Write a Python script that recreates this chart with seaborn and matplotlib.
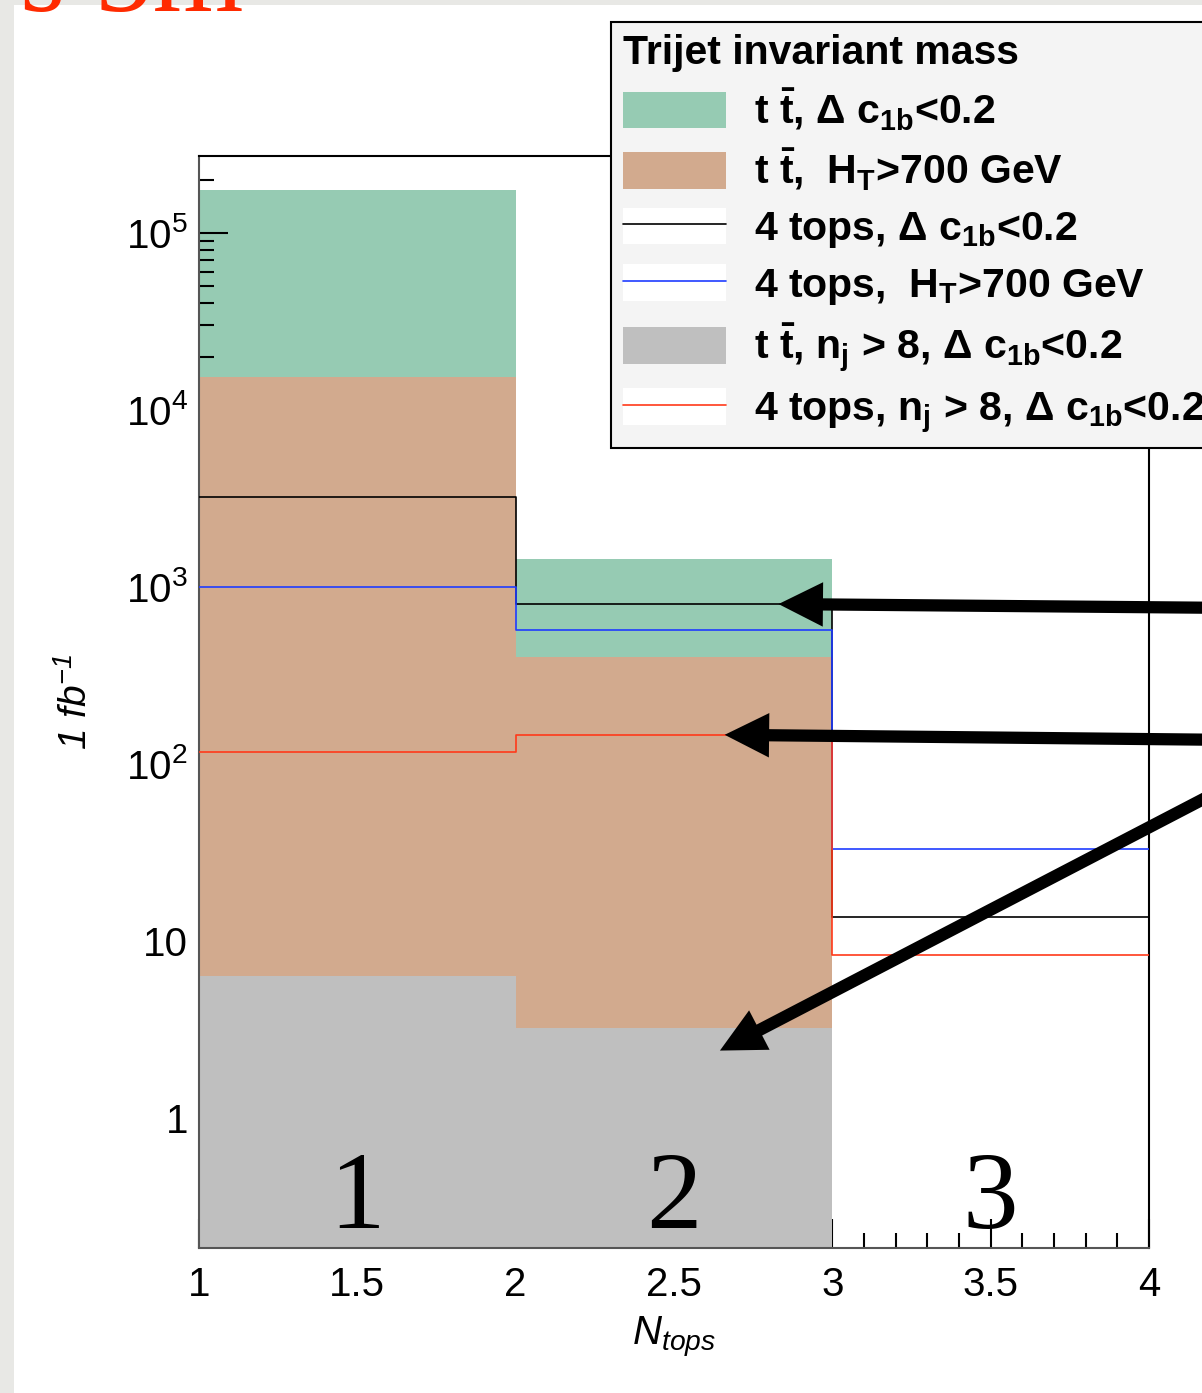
"""N_tops distribution (trijet invariant mass) for tt and 4-top samples, log scale."""

import matplotlib

matplotlib.use("Agg")
import matplotlib.pyplot as plt
import numpy as np
import seaborn as sns
from matplotlib.legend_handler import HandlerTuple
from matplotlib.lines import Line2D
from matplotlib.patches import Patch, Rectangle
from matplotlib.ticker import FixedLocator, FuncFormatter, LogLocator, MultipleLocator, NullFormatter

BIN_EDGES = [1, 2, 3, 4]
N_TOPS = [1.5, 2.5, 3.5]

# events per 1 fb^-1, one value per N_tops bin
TT_DC1B = [1.75e5, 1.44e3, 0.0]
TT_HT700 = [1.53e4, 403.0, 0.0]
TT_NJ8_DC1B = [6.3, 3.2, 0.0]
TOPS4_DC1B = [3200.0, 800.0, 13.7]
TOPS4_HT700 = [1000.0, 571.0, 33.0]
TOPS4_NJ8_DC1B = [117.0, 146.0, 8.3]

LABELS = [
    r"t $\bar{t}$, Δ c$_{1b}$<0.2",
    r"t $\bar{t}$,  H$_{T}$>700 GeV",
    r"4 tops, Δ c$_{1b}$<0.2",
    r"4 tops,  H$_{T}$>700 GeV",
    r"t $\bar{t}$, n$_{j}$ > 8, Δ c$_{1b}$<0.2",
    r"4 tops, n$_{j}$ > 8, Δ c$_{1b}$<0.2",
]
REGION_NAMES = ["1", "2", "3"]

GREEN = "#96cbb3"
BROWN = "#d2aa8e"
GREY = "#bfbfbf"
BLUE = "#1f3cff"
RED = "#ff3a1a"

W, H = 1202, 1393


def _hist(ax, weights, fill, color, zorder, lw=1.2):
    kw = dict(alpha=1, linewidth=0) if fill else dict(linewidth=lw)
    sns.histplot(x=N_TOPS, weights=weights, bins=BIN_EDGES, element="step", fill=fill,
                 color=color, zorder=zorder, ax=ax, **kw)


def main() -> None:
    sns.set_theme(style="ticks")
    plt.rcParams["font.family"] = ["Liberation Sans", "DejaVu Sans"]
    plt.rcParams["mathtext.default"] = "regular"
    plt.rcParams["text.color"] = "black"
    plt.rcParams["axes.labelcolor"] = "black"

    fig = plt.figure(figsize=(W / 100, H / 100), dpi=100)
    fig.patch.set_facecolor("#e8e8e5")
    fig.add_artist(Rectangle((14 / W, 0), 1 - 14 / W, 1 - 5 / H, transform=fig.transFigure,
                             facecolor="white", edgecolor="none", zorder=-2))
    # tail of the slide title, cut by the crop
    fig.text(20 / W, 1 - 11 / H, "s 5m", color="#ff2a00", family="Liberation Serif",
             fontsize=84, va="baseline", zorder=-1)

    ax = fig.add_axes([199 / W, 145 / H, 950 / W, 1092 / H])
    ax.set_axisbelow("line")

    # green drawn before the axis ticks, the rest on top of them (ROOT "same" order)
    _hist(ax, TT_DC1B, True, GREEN, 1)
    _hist(ax, TT_HT700, True, BROWN, 2)
    _hist(ax, TT_NJ8_DC1B, True, GREY, 2.1)
    _hist(ax, TOPS4_DC1B, False, "black", 3)
    _hist(ax, TOPS4_HT700, False, BLUE, 3)
    _hist(ax, TOPS4_NJ8_DC1B, False, RED, 3)

    ax.set_yscale("log")
    ax.set_xlim(1, 4)
    ax.set_ylim(0.184, 2.72e5)

    ax.yaxis.set_major_locator(FixedLocator([1, 10, 1e2, 1e3, 1e4, 1e5]))
    ax.yaxis.set_major_formatter(FuncFormatter(
        lambda v, _: f"{v:g}" if v < 100 else f"10$^{{{int(round(np.log10(v)))}}}$"))
    ax.yaxis.set_minor_locator(LogLocator(base=10, subs=np.arange(2, 10)))
    ax.yaxis.set_minor_formatter(NullFormatter())
    ax.xaxis.set_major_locator(MultipleLocator(0.5))
    ax.xaxis.set_minor_locator(MultipleLocator(0.1))
    ax.xaxis.set_major_formatter(FuncFormatter(lambda v, _: f"{v:g}"))

    ax.tick_params(which="both", direction="in", width=1.5, colors="black", labelsize=29,
                   top=False, right=False)
    ax.tick_params(which="major", length=21)
    ax.tick_params(which="minor", length=11)
    ax.tick_params(axis="y", pad=8)
    ax.tick_params(axis="x", pad=13)

    for side in ["top", "right"]:
        ax.spines[side].set_color("black")
    for side in ["left", "bottom"]:
        ax.spines[side].set_color("#555555")
    for sp in ax.spines.values():
        sp.set_linewidth(1.5)
        sp.set_visible(True)

    ax.set_xlabel(r"N$_{tops}$", fontsize=29, fontstyle="italic", va="top", color="black")
    ax.xaxis.set_label_coords(0.5, -0.06)
    ax.set_ylabel(r"1 fb$^{-1}$", fontsize=28, fontstyle="italic", color="black")
    ax.yaxis.set_label_coords(-0.11, 0.5)

    for x, name in zip(N_TOPS, REGION_NAMES):
        ax.text(x, 0.018, name, transform=ax.get_xaxis_transform(), family="Liberation Serif",
                fontsize=80, ha="center", va="baseline", color="black", zorder=4)

    line_box = Patch(facecolor="white", edgecolor="none")
    handles = [
        Patch(facecolor=GREEN, edgecolor="none"),
        Patch(facecolor=BROWN, edgecolor="none"),
        (line_box, Line2D([], [], color="black", lw=1.2)),
        (line_box, Line2D([], [], color=BLUE, lw=1.2)),
        Patch(facecolor=GREY, edgecolor="none"),
        (line_box, Line2D([], [], color=RED, lw=1.2)),
    ]
    leg = fig.legend(handles, LABELS, loc="upper left", bbox_to_anchor=(611 / W, 1 - 22 / H),
                     bbox_transform=fig.transFigure, borderaxespad=0, title="Trijet invariant mass",
                     alignment="left", prop={"weight": "bold", "size": 29.5},
                     title_fontproperties={"weight": "bold", "size": 29.5},
                     handlelength=2.5, handleheight=1.0, handletextpad=0.7, labelspacing=0.35,
                     borderpad=0.3, fancybox=False, facecolor="#f4f4f4", edgecolor="black",
                     framealpha=1, handler_map={tuple: HandlerTuple(ndivide=1)})
    leg.get_frame().set_linewidth(1.5)
    for t in leg.get_texts():
        t.set_color("black")
    leg.get_title().set_color("black")

    # slide arrows coming in from the right edge
    arrow = dict(arrowstyle="simple,head_length=0.8,head_width=0.8,tail_width=0.22",
                 mutation_scale=40, color="black", lw=0, shrinkA=0, shrinkB=0)
    ax.annotate("", xy=(2.83, TOPS4_DC1B[1]), xytext=(1240, H - 608), textcoords="figure pixels",
                arrowprops=arrow, annotation_clip=False, zorder=6)
    ax.annotate("", xy=(2.66, TOPS4_NJ8_DC1B[1]), xytext=(1240, H - 740), textcoords="figure pixels",
                arrowprops=arrow, annotation_clip=False, zorder=6)
    ax.annotate("", xy=(2.645, 2.4), xytext=(1240, H - 780), textcoords="figure pixels",
                arrowprops=arrow, annotation_clip=False, zorder=6)

    fig.savefig("out.png", dpi=100, facecolor=fig.get_facecolor())
    plt.close(fig)


if __name__ == "__main__":
    main()
